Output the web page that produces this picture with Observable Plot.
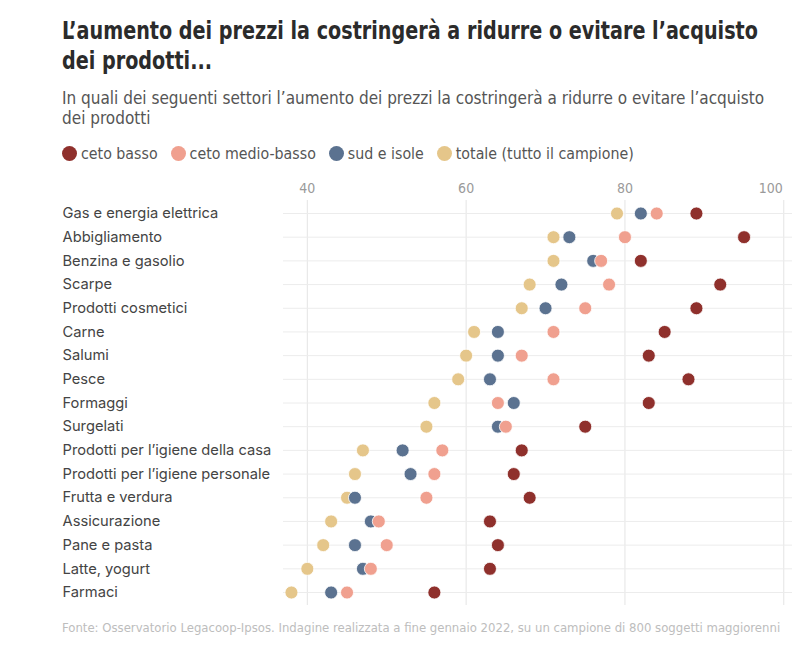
<!DOCTYPE html>
<html>
<head>
<meta charset="utf-8">
<script src="https://cdn.jsdelivr.net/npm/d3@7"></script>
<script src="https://cdn.jsdelivr.net/npm/@observablehq/plot@0.6"></script>
<style>
  html, body { margin: 0; padding: 0; background: #fff; }
  #wrap { position: relative; width: 800px; height: 657px; overflow: hidden; }
  .title { position: absolute; left: 62px; top: 16px; width: 820px; font-family: "Liberation Sans Narrow", "DejaVu Sans Condensed", Roboto, sans-serif; font-weight: bold; font-size: 24px; line-height: 30px; color: #2b2b2b; margin: 0; transform: scaleX(0.888); transform-origin: left top; white-space: nowrap; }
  .subtitle { position: absolute; left: 62px; top: 88px; width: 730px; font-family: "Liberation Sans Narrow", "DejaVu Sans Condensed", Roboto, sans-serif; font-size: 17px; line-height: 20px; color: #555; }
  .legend { position: absolute; left: 62px; top: 144px; display: flex; align-items: center; font-family: "Liberation Sans Narrow", "DejaVu Sans Condensed", Roboto, sans-serif; font-size: 15.8px; color: #555; }
  .legend span.item { display: flex; align-items: center; margin-right: 13px; }
  .legend span.sw { display: inline-block; width: 15px; height: 15px; border-radius: 50%; margin-right: 4px; }
  #chart { position: absolute; left: 0; top: 172px; }
  .caption { position: absolute; left: 62px; top: 620px; font-family: "Liberation Sans Narrow", "DejaVu Sans Condensed", Roboto, sans-serif; font-size: 13px; color: #bdbdbd; }
</style>
</head>
<body>
<div id="wrap">
  <div class="title">L’aumento dei prezzi la costringerà a ridurre o evitare l’acquisto<br>dei prodotti...</div>
  <div class="subtitle">In quali dei seguenti settori l’aumento dei prezzi la costringerà a ridurre o evitare l’acquisto dei prodotti</div>
  <div class="legend" id="legend"></div>
  <div id="chart"></div>
  <div class="caption">Fonte: Osservatorio Legacoop-Ipsos. Indagine realizzata a fine gennaio 2022, su un campione di 800 soggetti maggiorenni</div>
</div>
<script>
const categories = [
  "Gas e energia elettrica", "Abbigliamento", "Benzina e gasolio", "Scarpe",
  "Prodotti cosmetici", "Carne", "Salumi", "Pesce", "Formaggi", "Surgelati",
  "Prodotti per l’igiene della casa", "Prodotti per l’igiene personale",
  "Frutta e verdura", "Assicurazione", "Pane e pasta", "Latte, yogurt", "Farmaci"
];
const cetoBasso      = [89, 95, 82, 92, 89, 85, 83, 88, 83, 75, 67, 66, 68, 63, 64, 63, 56];
const cetoMedioBasso = [84, 80, 77, 78, 75, 71, 67, 71, 64, 65, 57, 56, 55, 49, 50, 48, 45];
const sudEIsole      = [82, 73, 76, 72, 70, 64, 64, 63, 66, 64, 52, 53, 46, 48, 46, 47, 43];
const totale         = [79, 71, 71, 68, 67, 61, 60, 59, 56, 55, 47, 46, 45, 43, 42, 40, 38];
const seriesNames = ["ceto basso", "ceto medio-basso", "sud e isole", "totale (tutto il campione)"];
const seriesColors = ["#8f302c", "#f0a08f", "#5b7290", "#e5c68a"];
const xTicks = [40, 60, 80, 100];

// legend
const legend = document.getElementById("legend");
seriesNames.forEach((name, i) => {
  const item = document.createElement("span");
  item.className = "item";
  const sw = document.createElement("span");
  sw.className = "sw";
  sw.style.background = seriesColors[i];
  item.appendChild(sw);
  item.appendChild(document.createTextNode(name));
  legend.appendChild(item);
});

// long table, drawing order: totale, sud, medio, basso
const seriesValues = [cetoBasso, cetoMedioBasso, sudEIsole, totale];
const drawOrder = [3, 2, 1, 0];
const rows = [];
drawOrder.forEach(si => {
  categories.forEach((c, ci) => {
    rows.push({category: c, value: seriesValues[si][ci], series: seriesNames[si]});
  });
});

const xMax = xTicks[xTicks.length - 1];
const axisStyle = {anchor: "top", tickSize: 0, tickPadding: 8, fontSize: 14, fill: "#9a9a9a", fontFamily: "Liberation Sans Narrow, DejaVu Sans Condensed, sans-serif", label: null};

const chart = Plot.plot({
  width: 800,
  height: 445,
  marginLeft: 283,
  marginRight: 8,
  marginTop: 28,
  marginBottom: 12,
  style: {fontFamily: "Inter, Roboto, sans-serif", background: "transparent"},
  x: {domain: [37, 101.1], axis: null},
  y: {type: "point", domain: categories, range: [41, 420], padding: 0, round: false, axis: null},
  color: {domain: seriesNames, range: seriesColors},
  marks: [
    Plot.gridX({ticks: xTicks, stroke: "#e4e4e4", strokeOpacity: 1}),
    Plot.gridY({stroke: "#ececec", strokeOpacity: 1}),
    Plot.axisX({...axisStyle, ticks: xTicks.filter(t => t !== xMax)}),
    Plot.axisX({...axisStyle, ticks: [xMax], textAnchor: "end", dx: -1}),
    Plot.text(categories, {y: d => d, frameAnchor: "left", dx: -221, textAnchor: "start", fontSize: 14.7, fill: "#444"}),
    Plot.dot(rows, {x: "value", y: "category", fill: "series", r: 6.5, stroke: "#fff", strokeWidth: 0.8})
  ]
});
document.getElementById("chart").appendChild(chart);
</script>
</body>
</html>
